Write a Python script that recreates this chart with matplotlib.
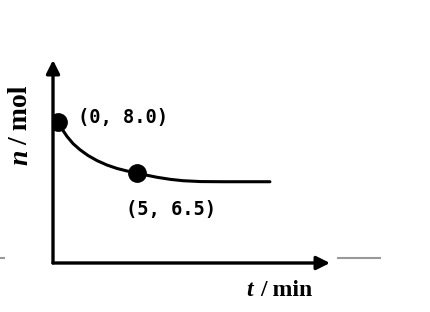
import matplotlib
matplotlib.use("Agg")
import matplotlib.pyplot as plt
from matplotlib.lines import Line2D

# curve (t in min, n in mol)
curve_t = [0.0, 0.25, 0.57, 0.95, 1.39, 1.9, 2.47, 3.1, 3.73, 4.37, 5.0,
           5.63, 6.27, 7.1, 7.9, 9.0, 10.5, 12.0, 13.4]
curve_n = [8.0, 7.79, 7.57, 7.36, 7.18, 7.01, 6.86, 6.73, 6.63, 6.555, 6.5,
           6.43, 6.37, 6.31, 6.27, 6.245, 6.24, 6.24, 6.24]

point_t = [0, 5]
point_n = [8.0, 6.5]
point_labels = ["(0, 8.0)", "(5, 6.5)"]


def draw_chart():
    fig = plt.figure(figsize=(4.31, 3.12), dpi=100)
    ax = fig.add_axes([53 / 431, 49 / 312, 277 / 431, 203 / 312])

    ax.plot(curve_t, curve_n, color="black", lw=2.2,
            solid_capstyle="round", solid_joinstyle="round")
    ax.plot(point_t, point_n, "o", color="black", ms=12.5)

    ax.annotate(point_labels[0], xy=(point_t[0], point_n[0]),
                xytext=(20, 4), textcoords="offset pixels",
                ha="left", va="center", fontsize=13.5,
                family="DejaVu Sans Mono", weight="bold")
    ax.annotate(point_labels[1], xy=(point_t[1], point_n[1]),
                xytext=(34, -37), textcoords="offset pixels",
                ha="center", va="center", fontsize=13.5,
                family="DejaVu Sans Mono", weight="bold")

    ax.set_xlim(-0.32, 17.2)
    ax.set_ylim(3.85, 9.82)
    for side in ["top", "right", "bottom", "left"]:
        ax.spines[side].set_visible(False)
    ax.set_xticks([])
    ax.set_yticks([])

    arrow = dict(arrowstyle="-|>,head_length=0.8,head_width=0.4",
                 color="black", lw=2.4, shrinkA=0, shrinkB=0)
    ax.annotate("", xy=(1, 0), xytext=(0, 0), xycoords="axes fraction",
                arrowprops=arrow)
    ax.annotate("", xy=(0, 1), xytext=(0, 0), xycoords="axes fraction",
                arrowprops=arrow)

    # axis labels
    fig.text(250 / 431, 1 - 291 / 312, "t", ha="center", va="center",
             fontsize=17, family="Liberation Serif", weight="bold", style="italic")
    fig.text(286 / 431, 1 - 290 / 312, "/ min", ha="center", va="center",
             fontsize=17, family="Liberation Serif", weight="bold")
    fig.text(21 / 431, 1 - 157 / 312, "n", ha="center", va="center",
             rotation=90, fontsize=20, family="Liberation Serif", weight="bold",
             style="italic")
    fig.text(21 / 431, 1 - 115 / 312, "/ mol", ha="center", va="center",
             rotation=90, fontsize=20, family="Liberation Serif", weight="bold")

    # stray grey rules at the edges
    fig.add_artist(Line2D([338 / 431, 380 / 431], [1 - 258 / 312, 1 - 258 / 312],
                          color="#999999", lw=1.5))
    fig.add_artist(Line2D([0, 4 / 431], [1 - 258 / 312, 1 - 258 / 312],
                          color="#999999", lw=1.5))

    fig.savefig("out.png", dpi=100)


if __name__ == "__main__":
    draw_chart()
